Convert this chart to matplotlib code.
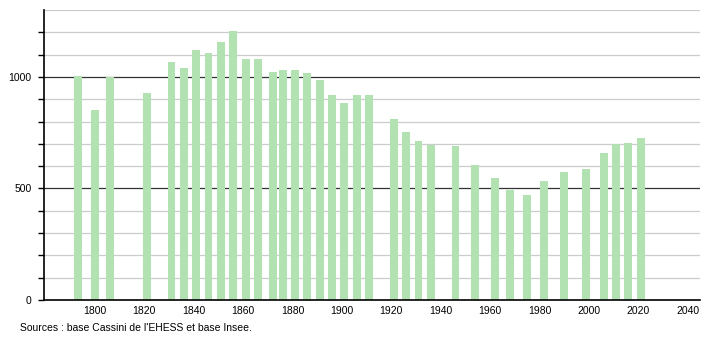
import matplotlib
matplotlib.use('Agg')
from matplotlib import pyplot, rc

rc('font', family=['Liberation Sans', 'DejaVu Sans'], size=7.5)

years = [1793, 1800, 1806, 1821, 1831, 1836, 1841, 1846, 1851, 1856,
         1861, 1866, 1872, 1876, 1881, 1886, 1891, 1896, 1901, 1906,
         1911, 1921, 1926, 1931, 1936, 1946, 1954, 1962, 1968, 1975,
         1982, 1990, 1999, 2006, 2011, 2016, 2021]
population = [1005, 852, 1000, 930, 1065, 1038, 1121, 1107, 1157, 1204,
              1082, 1079, 1022, 1029, 1029, 1017, 986, 918, 881, 921,
              921, 812, 751, 715, 694, 689, 604, 548, 494, 472,
              532, 572, 586, 658, 700, 704, 724]
x_ticks = [1800, 1820, 1840, 1860, 1880, 1900, 1920, 1940, 1960, 1980,
           2000, 2020, 2040]
y_labels = [0, 500, 1000]
source = "Sources : base Cassini de l'EHESS et base Insee."

figure = pyplot.figure(figsize=(7.1, 3.4), dpi=100)
plot = figure.add_axes([0.062, 0.1176, 0.924, 0.853])

for v in range(100, 1400, 100):
    if v % 500 == 0:
        plot.axhline(v, color='#333333', lw=0.9, zorder=1)
    else:
        plot.axhline(v, color='#cccccc', lw=0.9, zorder=1)

plot.bar(years, population, width=3.2, color='#b2e2b2', zorder=2)

plot.set_xlim(1779.4, 2045)
plot.set_ylim(0, 1300)
plot.set_xticks(x_ticks)
plot.set_yticks(range(0, 1300, 100))
plot.set_yticklabels([str(v) if v in y_labels else '' for v in range(0, 1300, 100)])
plot.tick_params(axis='x', length=0, pad=4)
plot.tick_params(axis='y', length=4, width=1, pad=5)
for side in ('top', 'right'):
    plot.spines[side].set_visible(False)
plot.spines['left'].set_linewidth(1.2)
plot.spines['bottom'].set_linewidth(1.2)

figure.text(20 / 710, 1 - 328 / 340, source, va='center', ha='left')
figure.savefig('out.png', dpi=100)
